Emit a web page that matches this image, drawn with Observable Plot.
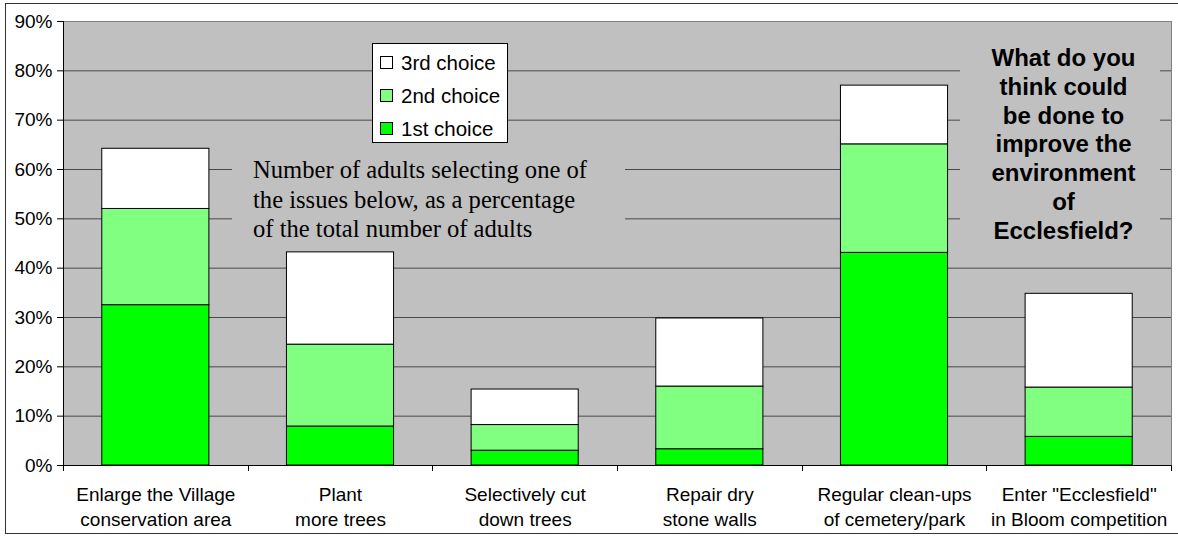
<!DOCTYPE html>
<html><head><meta charset="utf-8">
<script src="https://cdn.jsdelivr.net/npm/d3@7"></script>
<script src="https://cdn.jsdelivr.net/npm/@observablehq/plot@0.6"></script>
<style>
body{margin:0;background:#fff;}
#wrap{position:relative;width:1178px;height:536px;overflow:hidden;font-family:"Liberation Sans",Arial,sans-serif;background:#fff;}
#wrap svg{position:absolute;left:0;top:0;}
#frame{position:absolute;left:5px;top:3px;width:1180px;height:531px;border:1px solid #333;box-sizing:border-box;}
#legend{position:absolute;left:372px;top:43px;width:136px;height:100px;background:#fff;border:1px solid #000;box-sizing:border-box;}
.lrow{position:absolute;left:7px;height:33px;display:flex;align-items:center;font-size:20.5px;color:#000;white-space:nowrap;}
.sw{width:11px;height:11px;border:1px solid #000;margin-right:8px;}
#sub{position:absolute;left:232px;top:150px;width:393px;height:95px;background:#c0c0c0;box-sizing:border-box;padding:5px 0 0 21px;font-family:"Liberation Serif","Times New Roman",serif;font-size:24.6px;line-height:29.5px;color:#000;white-space:nowrap;}
#q{position:absolute;left:960px;top:30px;width:200px;height:215px;background:#c0c0c0;box-sizing:border-box;padding:14px 0 0 7px;text-align:center;font-weight:bold;font-size:24px;line-height:28.8px;color:#000;}
</style></head><body><div id="wrap"></div>
<script>
const categories = [
  "Enlarge the Village\nconservation area",
  "Plant\nmore trees",
  "Selectively cut\ndown trees",
  "Repair dry\nstone walls",
  "Regular clean-ups\nof cemetery/park",
  "Enter \"Ecclesfield\"\nin Bloom competition"
];
const firstChoice  = [32.5, 7.9, 3.0, 3.3, 43.1, 5.8];
const secondChoice = [19.5, 16.6, 5.2, 12.7, 22.0, 10.0];
const thirdChoice  = [12.2, 18.7, 7.2, 13.8, 11.9, 19.0];
const seriesNames  = ["1st choice", "2nd choice", "3rd choice"];
const seriesColors = ["#00ff00", "#80ff80", "#ffffff"];
const yTicks = [0, 10, 20, 30, 40, 50, 60, 70, 80, 90];
const gridTicks = [10, 20, 30, 40, 50, 60, 70, 80];
const legendOrder = ["3rd choice", "2nd choice", "1st choice"];
const subtitleLines = ["Number of adults selecting one of", "the issues below, as a percentage", "of the total number of adults"];
const questionLines = ["What do you", "think could", "be done to", "improve the", "environment", "of", "Ecclesfield?"];

const series = [firstChoice, secondChoice, thirdChoice];
const data = [];
categories.forEach((c, i) => {
  series.forEach((s, j) => data.push({category: c, choice: seriesNames[j], value: s[i]}));
});

function structure(index, scales, values, dims) {
  const x = scales.x;
  const bw = x.bandwidth();
  const step = typeof x.step === "function" ? x.step() : bw / 0.58;
  const off = (step - bw) / 2;
  const dom = x.domain();
  const xs = dom.map(c => x(c) - off);
  xs.push(x(dom[dom.length - 1]) + bw + off);
  const yb = dims.height - dims.marginBottom;
  const g = d3.create("svg:g");
  g.selectAll("line.t").data(xs).join("line")
    .attr("x1", d => Math.round(d) + 0.5).attr("x2", d => Math.round(d) + 0.5)
    .attr("y1", yb).attr("y2", yb + 6).attr("stroke", "#000");
  g.append("line").attr("x1", dims.marginLeft + 0.5).attr("x2", dims.marginLeft + 0.5)
    .attr("y1", dims.marginTop).attr("y2", yb + 0.5).attr("stroke", "#000");
  g.append("line").attr("x1", dims.marginLeft).attr("x2", dims.width - dims.marginRight)
    .attr("y1", Math.round(yb) + 0.5).attr("y2", Math.round(yb) + 0.5).attr("stroke", "#000");
  return g.node();
}

const plot = Plot.plot({
  width: 1178,
  height: 536,
  marginLeft: 63,
  marginRight: 7,
  marginTop: 21,
  marginBottom: 71,
  style: {fontFamily: "'Liberation Sans', Arial, sans-serif", fontSize: "19px", color: "#000", background: "transparent", overflow: "visible"},
  x: {domain: categories, paddingInner: 0.42, paddingOuter: 0.21, round: false, label: null},
  y: {domain: [0, 90], label: null},
  color: {domain: seriesNames, range: seriesColors},
  marks: [
    Plot.frame({fill: "#c0c0c0", stroke: "#808080"}),
    Plot.ruleY(gridTicks, {stroke: "#4a4a4a", strokeWidth: 1}),
    Plot.barY(data, {x: "category", y: "value", fill: "choice", stroke: "#000", strokeWidth: 1}),
    Plot.axisY({ticks: yTicks, tickFormat: d => d + "%", tickSize: 6, tickPadding: 5, fontSize: 19, label: null}),
    Plot.axisX({tickSize: 0, tickPadding: 18, fontSize: 19, lineHeight: 1.32, label: null}),
    structure
  ]
});

const wrap = document.getElementById("wrap");
wrap.appendChild(plot);

const frame = document.createElement("div"); frame.id = "frame"; wrap.appendChild(frame);

const legend = document.createElement("div"); legend.id = "legend";
legendOrder.forEach((name, i) => {
  const row = document.createElement("div"); row.className = "lrow";
  row.style.top = (2 + i * 33) + "px";
  const sw = document.createElement("div"); sw.className = "sw";
  sw.style.background = seriesColors[seriesNames.indexOf(name)];
  const t = document.createElement("span"); t.textContent = name;
  row.appendChild(sw); row.appendChild(t); legend.appendChild(row);
});
wrap.appendChild(legend);

const sub = document.createElement("div"); sub.id = "sub";
sub.innerHTML = subtitleLines.map(l => `<div>${l}</div>`).join("");
wrap.appendChild(sub);

const q = document.createElement("div"); q.id = "q";
q.innerHTML = questionLines.map(l => `<div>${l}</div>`).join("");
wrap.appendChild(q);
</script></body></html>
